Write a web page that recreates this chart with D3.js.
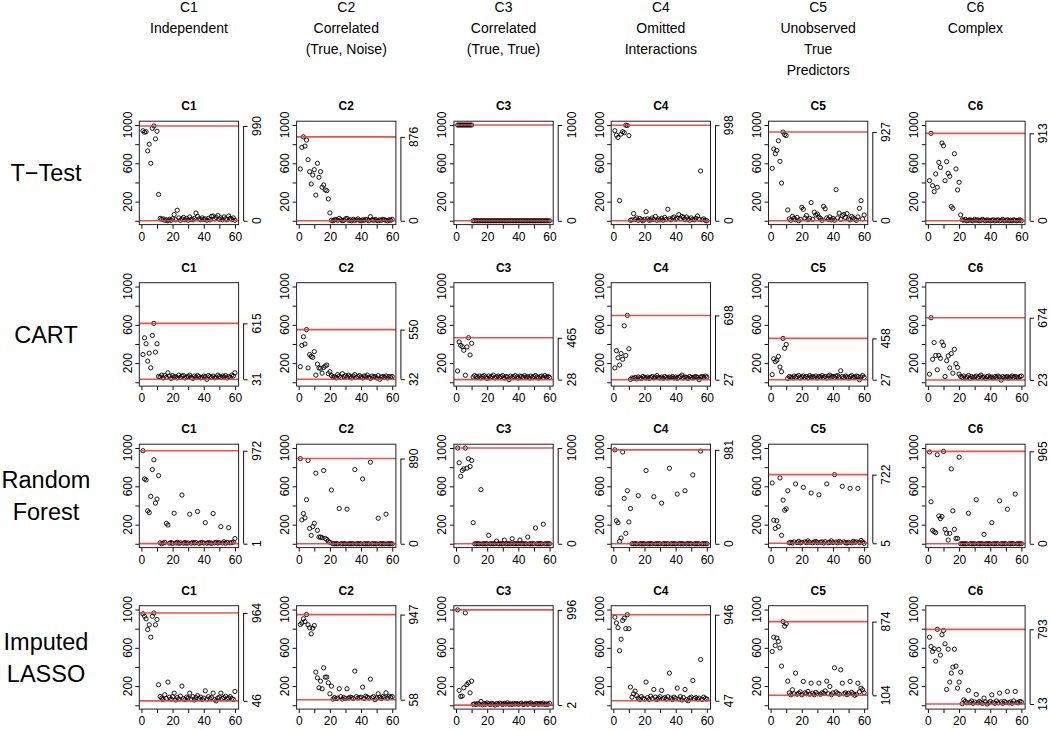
<!DOCTYPE html>
<html><head><meta charset="utf-8">
<script src="https://cdn.jsdelivr.net/npm/d3@7"></script>
<style>
body{margin:0;background:#fff}
svg{display:block}
text{font-family:"Liberation Sans",Arial,Helvetica,sans-serif;fill:#000}
</style>
</head><body>
<svg id="chart" width="1050" height="730"></svg>
<script>
// ---------- labels ----------
const columnTitles = [
  ["C1","Independent"],
  ["C2","Correlated","(True, Noise)"],
  ["C3","Correlated","(True, True)"],
  ["C4","Omitted","Interactions"],
  ["C5","Unobserved","True","Predictors"],
  ["C6","Complex"]
];
const panelTitles = ["C1","C2","C3","C4","C5","C6"];
const rowLabels = [["T\u2212Test"],["CART"],["Random","Forest"],["Imputed","LASSO"]];
const xTicks = [0,10,20,30,40,50,60];
const xTickLabels = [0,20,40,60];
const yTicks = [0,200,400,600,800,1000];
const yTickLabels = [200,600,1000];

// ---------- data: rank (0-1000) for predictors 1..60 ----------
// T-Test
const tTestC1 = [940,925,930,730,800,600,965,990,855,935, 275,25,15,20,5,10,0,15,5,20, 65,10,110,30,5,20,35,10,25,5, 40,15,10,25,80,45,20,10,30,15, 20,5,25,10,45,50,20,35,55,15, 30,10,40,20,10,50,25,15,30,5];
const tTestC2 = [541,767,876,780,843,638,513,384,478,534, 268,600,454,513,350,374,322,315,228,82, 5,0,10,15,5,25,10,0,5,20, 25,5,10,0,15,5,10,20,5,0, 10,5,15,10,0,43,10,5,15,5, 0,10,5,15,10,5,0,10,5,15];
const tTestC3 = [1000,1000,1000,1000,1000,1000,1000,1000,1000,1000, 0,0,0,0,0,0,0,0,0,0, 0,0,0,0,0,0,0,0,0,0, 0,0,0,0,0,0,0,0,0,0, 0,0,0,0,0,0,0,0,0,0, 0,0,0,0,0,0,0,0,0,0];
const tTestC4 = [940,895,870,210,905,930,920,998,995,890, 5,10,75,15,30,5,25,10,0,15, 95,20,5,10,30,15,45,5,20,10, 25,5,35,15,120,20,10,30,40,15, 25,65,20,45,35,10,40,20,5,30, 15,10,25,50,15,520,10,20,5,0];
const tTestC5 = [548,750,700,735,836,621,394,927,900,890, 113,20,5,45,25,10,35,0,15,140, 120,30,55,10,25,190,15,90,60,70, 40,25,5,150,125,30,15,40,10,25, 5,325,30,80,15,55,65,35,75,20, 10,45,30,15,5,40,130,210,20,60];
const tTestC6 = [419,913,367,304,489,350,610,558,812,784, 419,617,495,465,148,130,700,541,322,402, 61,10,5,15,0,5,10,5,0,15, 5,10,0,5,15,5,0,10,5,0, 5,10,0,5,10,0,5,15,0,5, 10,0,5,0,10,5,0,5,10,0];
// CART
const cartC1 = [290,464,402,221,304,151,489,615,315,402, 60,55,75,45,70,50,99,65,40,70, 55,60,45,75,50,65,70,45,55,60, 75,50,40,65,55,70,60,45,50,65, 55,31,70,60,50,65,45,55,75,60, 50,65,55,70,45,60,50,75,65,99];
const cartC2 = [163,385,475,400,550,150,290,270,260,320, 75,190,150,145,95,155,170,180,90,110, 70,55,60,45,80,65,50,90,60,70, 55,75,60,45,65,80,50,60,70,55, 45,65,60,75,50,40,65,55,60,45, 70,32,55,60,50,65,45,60,55,60];
const cartC3 = [118,421,386,372,334,73,369,465,285,407, 55,70,60,50,65,45,60,70,55,40, 65,50,60,75,45,55,65,50,60,70, 45,60,55,28,65,50,60,70,55,45, 65,60,50,70,55,60,45,65,50,60, 70,55,45,60,65,50,70,55,60,50];
const cartC4 = [150,330,255,180,300,240,590,280,698,350, 30,45,40,50,35,55,45,40,60,50, 45,55,40,50,60,45,55,70,50,45, 55,40,60,50,45,55,50,60,45,55, 40,50,60,75,45,55,50,40,60,50, 45,55,60,50,27,55,60,50,65,55];
const cartC5 = [80,245,215,230,270,160,110,458,355,395, 40,60,55,45,65,50,60,70,45,55, 65,50,60,45,70,55,60,50,65,45, 60,55,70,50,60,45,65,75,55,60, 50,65,70,55,120,60,50,65,55,45, 60,70,50,55,65,60,27,55,70,50];
const cartC6 = [85,674,240,415,280,130,280,250,420,385, 60,225,275,150,300,95,345,195,155,85, 60,50,65,45,55,70,40,60,50,55, 65,45,60,75,50,55,40,60,65,50, 55,45,60,50,65,55,23,60,50,55, 60,45,55,65,50,60,55,45,60,65];
// Random Forest
const rfC1 = [972,677,667,344,326,495,775,877,425,467, 712,10,1,8,15,214,196,6,12,5, 319,8,15,5,10,509,7,12,5,9, 309,6,15,8,12,337,5,10,14,8, 221,6,12,9,5,316,10,15,7,12, 179,8,20,6,15,168,10,12,18,55];
const rfC2 = [890,249,316,270,460,870,161,88,179,214, 737,140,70,70,63,765,56,46,28,14, 561,0,0,0,0,368,0,0,0,0, 361,0,0,0,0,775,0,0,0,0, 677,0,0,0,0,852,0,0,0,0, 267,0,0,0,0,309,0,0,0,0];
const rfC3 = [1000,846,705,765,782,1000,790,888,807,870, 221,0,0,0,0,565,0,0,0,0, 88,0,0,0,0,28,0,0,0,0, 39,0,0,0,0,53,0,0,0,0, 39,0,0,0,0,70,0,0,0,0, 165,0,0,0,0,204,0,0,0,0];
const rfC4 = [981,240,220,25,60,958,474,109,554,228, 368,0,0,0,0,502,0,0,0,0, 765,0,0,0,0,491,0,0,0,0, 425,0,0,0,0,789,0,0,0,0, 519,0,0,0,0,554,0,0,0,0, 719,0,0,0,0,968,0,0,0,0];
const rfC5 = [635,246,160,240,180,688,88,456,350,365, 554,10,15,8,20,625,12,25,10,15, 589,20,12,30,15,530,10,18,25,12, 512,15,20,8,22,625,10,15,30,12, 722,18,10,25,15,600,20,12,8,15, 579,10,25,15,20,579,12,35,18,5];
const rfC6 = [958,439,140,126,116,930,291,263,284,965, 151,109,39,109,782,344,151,56,56,905, 0,0,0,0,0,319,0,0,0,0, 460,0,0,0,0,98,0,0,0,0, 221,0,0,0,0,449,0,0,0,0, 361,0,0,0,0,519,0,0,0,0];
// Imputed LASSO
const lassoC1 = [955,930,903,791,840,711,930,964,840,896, 214,92,75,60,110,70,242,85,65,90, 127,55,80,65,95,200,70,60,85,75, 127,65,90,55,80,100,70,85,60,75, 151,65,90,70,80,127,60,46,75,85, 127,70,80,95,65,75,90,70,60,144];
const lassoC2 = [843,861,903,875,947,840,809,746,805,833, 346,287,183,252,172,391,294,294,235,120, 200,65,80,70,75,172,90,65,80,70, 172,75,85,80,70,357,90,75,80,85, 190,70,95,85,75,273,80,90,58,75, 120,85,70,90,80,130,75,95,85,90];
const lassoC3 = [996,155,92,96,183,965,217,235,130,252, 10,15,8,20,12,40,5,18,10,25, 15,8,20,12,2,18,10,22,15,8, 20,12,25,10,15,8,20,12,18,10, 15,22,8,12,20,10,18,25,12,8, 15,20,10,18,12,22,8,15,10,20];
const lassoC4 = [920,860,810,570,690,885,910,800,946,800, 190,85,120,148,100,75,60,90,70,65, 242,80,60,95,70,165,85,60,75,90, 155,70,80,65,90,336,75,60,85,70, 179,65,90,55,80,165,60,47,75,85, 259,70,80,65,75,478,60,85,70,65];
const lassoC5 = [562,711,624,702,667,598,409,874,826,850, 252,130,109,162,120,336,115,125,140,110, 249,130,120,145,115,231,125,110,135,120, 231,115,130,125,150,252,120,196,110,130, 391,140,125,115,370,231,120,130,110,125, 249,135,120,104,115,231,140,179,162,130];
const lassoC6 = [711,614,562,590,461,793,583,524,736,781, 642,165,586,242,336,398,586,409,179,242, 346,16,57,40,25,155,30,45,20,35, 113,25,40,30,20,75,35,13,25,40, 109,30,20,45,25,127,35,20,40,30, 144,25,35,20,45,144,30,25,40,35];

const grid = [
  [tTestC1,tTestC2,tTestC3,tTestC4,tTestC5,tTestC6],
  [cartC1,cartC2,cartC3,cartC4,cartC5,cartC6],
  [rfC1,rfC2,rfC3,rfC4,rfC5,rfC6],
  [lassoC1,lassoC2,lassoC3,lassoC4,lassoC5,lassoC6]
];

// ---------- layout ----------
const X0 = 139.3, DX = 157.3, W = 99.3;
const Y0 = 121.2, DY = 161.5, H = 103.4;
const FONT = '"Liberation Sans",Arial,Helvetica,sans-serif';
const svg = d3.select("#chart");

// column headers
columnTitles.forEach((lines,c)=>{
  const cx = X0 + c*DX + W/2;
  svg.append("text").attr("x",cx).attr("text-anchor","middle")
    .attr("font-size",14)
    .selectAll("tspan").data(lines).join("tspan")
    .attr("x",cx).attr("y",(d,i)=>12 + i*21).text(d=>d);
});

// row labels
rowLabels.forEach((lines,r)=>{
  const cy = Y0 + r*DY + H/2;
  const n = lines.length, gap = 32;
  svg.append("g").selectAll("text").data(lines).join("text")
    .attr("x",46).attr("y",(d,i)=>cy + (i-(n-1)/2)*gap)
    .attr("dy","0.36em").attr("text-anchor","middle")
    .attr("font-size",23.5).text(d=>d);
});

grid.forEach((row,r)=>{
  row.forEach((vals,c)=>{
    const left = X0 + c*DX, top = Y0 + r*DY;
    const x = d3.scaleLinear().domain([-1.36,62.36]).range([left,left+W]);
    const y = d3.scaleLinear().domain([-40,1040]).range([top+H,top]);
    const [lo,hi] = d3.extent(vals);
    const g = svg.append("g");

    // panel title
    g.append("text").attr("x",left+W/2).attr("y",top-11)
      .attr("text-anchor","middle").attr("font-size",12).attr("font-weight","bold")
      .text(panelTitles[c]);

    // bottom axis
    const xa = g.append("g").attr("transform",`translate(0,${top+H})`)
      .call(d3.axisBottom(x).tickValues(xTicks).tickSize(4).tickPadding(3.8)
        .tickFormat(d=>xTickLabels.includes(d)?d:""));
    xa.select(".domain").remove();
    xa.attr("font-family",FONT).attr("font-size",12);
    xa.selectAll("line").attr("stroke","#111");
    xa.selectAll("text").attr("fill","#000");

    // left axis
    const ya = g.append("g").attr("transform",`translate(${left},0)`)
      .call(d3.axisLeft(y).tickValues(yTicks).tickSize(4).tickFormat(""));
    ya.select(".domain").remove();
    ya.selectAll("line").attr("stroke","#111");
    g.append("g").selectAll("text").data(yTickLabels).join("text")
      .attr("transform",d=>`translate(${left-12},${y(d)}) rotate(-90)`)
      .attr("text-anchor","middle").attr("dy","0.36em").attr("font-size",12)
      .text(d=>d);

    // right bracket axis (range of the values)
    const bx = left + W + 5;
    const ra = g.append("g").attr("transform",`translate(${bx},0)`)
      .call(d3.axisRight(y).tickValues([lo,hi]).tickSize(4).tickFormat(""));
    ra.select(".domain").remove();
    ra.selectAll("line").attr("stroke","#111");
    g.append("line").attr("x1",bx).attr("x2",bx).attr("y1",y(lo)).attr("y2",y(hi))
      .attr("stroke","#111");
    g.append("g").selectAll("text").data([lo,hi]).join("text")
      .attr("transform",d=>`translate(${left+W+18},${y(d)}) rotate(-90)`)
      .attr("text-anchor","middle").attr("dy","0.36em").attr("font-size",12)
      .text(d=>d);

    // points
    g.append("g").selectAll("circle").data(vals).join("circle")
      .attr("cx",(d,i)=>x(i+1)).attr("cy",d=>y(d)).attr("r",2.1)
      .attr("fill","none").attr("stroke","#000").attr("stroke-width",0.9);

    // red range lines
    g.append("g").selectAll("line").data([lo,hi]).join("line")
      .attr("x1",left).attr("x2",left+W).attr("y1",d=>y(d)).attr("y2",d=>y(d))
      .attr("stroke","#f23a3a").attr("stroke-width",1.6).attr("stroke-opacity",0.9);

    // box
    g.append("rect").attr("x",left).attr("y",top).attr("width",W).attr("height",H)
      .attr("fill","none").attr("stroke","#222").attr("stroke-width",1);
  });
});
</script>
</body></html>
